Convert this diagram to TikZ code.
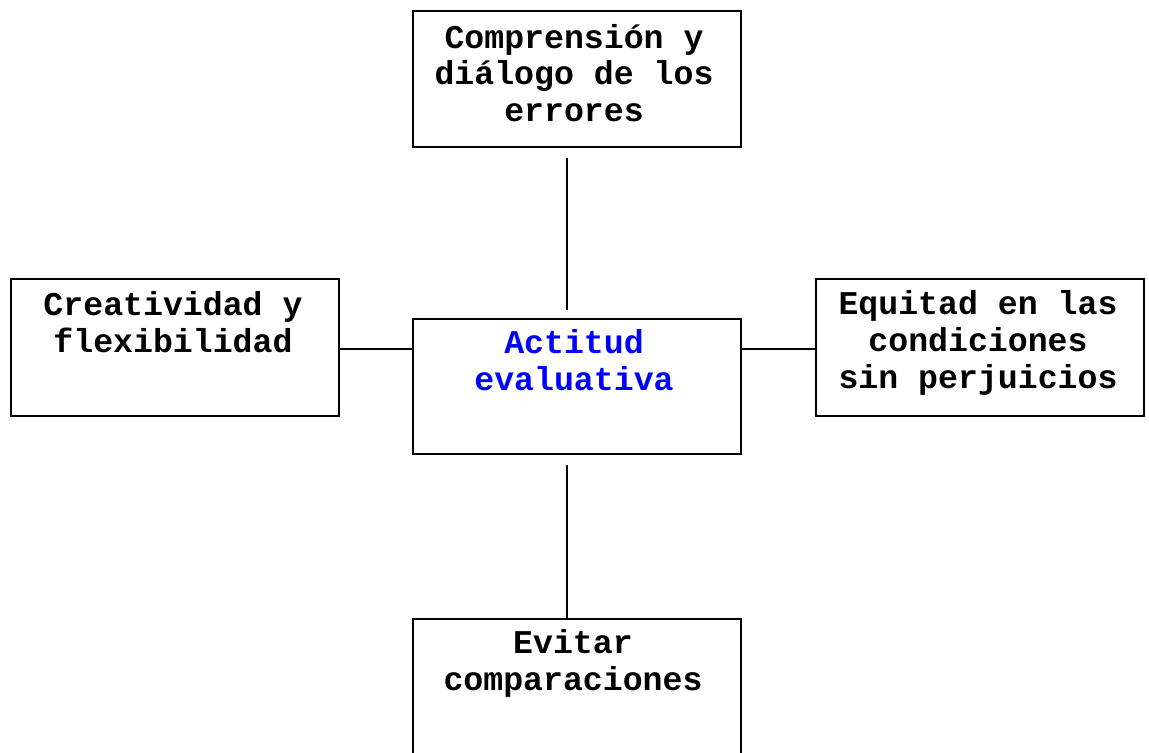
\documentclass[tikz,border=0pt]{standalone}
\usepackage{fontspec}
\newfontfamily\courfont{Liberation Mono}
\begin{document}
\begin{tikzpicture}[x=0.5pt,y=-0.5pt,
  boxnode/.style={draw=black,line width=1pt,inner sep=0pt,minimum width=164pt},
  txt/.style={anchor=base,align=center,inner sep=0pt,font=\courfont\bfseries\fontsize{16.6pt}{18.4pt}\selectfont},
  conn/.style={draw=black,line width=1pt}]
\useasboundingbox (0,0) rectangle (1149,753);
\clip (0,0) rectangle (1149,753);
\node[boxnode,minimum height=68pt] (top) at (577,79) {};
\node[boxnode,minimum height=68.5pt] (left) at (175,347.5) {};
\node[boxnode,minimum height=67.5pt] (center) at (577,386.5) {};
\node[boxnode,minimum height=68.5pt] (right) at (980,347.5) {};
\node[boxnode,minimum height=85.5pt] (bottom) at (577,704.5) {};
\node[txt] (toptxt) at (574,121.7) {Comprensión y\\diálogo de los\\errores};
\node[txt] (lefttxt) at (173,352.7) {Creatividad y\\flexibilidad};
\node[txt,text=blue] (centertxt) at (574,390.7) {Actitud\\evaluativa};
\node[txt] (righttxt) at (978,388) {Equitad en las\\condiciones\\sin perjuicios};
\node[txt] (bottomtxt) at (573,690.7) {Evitar\\comparaciones};
\draw[conn,shorten <=5.25pt,shorten >=4pt] ([xshift=-5pt]top.south) -- ([xshift=-5pt]center.north);
\draw[conn,shorten <=5pt] ([xshift=-5pt]center.south) -- ([xshift=-5pt]bottom.north);
\draw[conn] ([yshift=-0.75pt]left.east) -- ([yshift=-0.75pt]left.east -| center.west);
\draw[conn] ([yshift=-0.75pt]right.west) -- ([yshift=-0.75pt]right.west -| center.east);
\end{tikzpicture}
\end{document}
